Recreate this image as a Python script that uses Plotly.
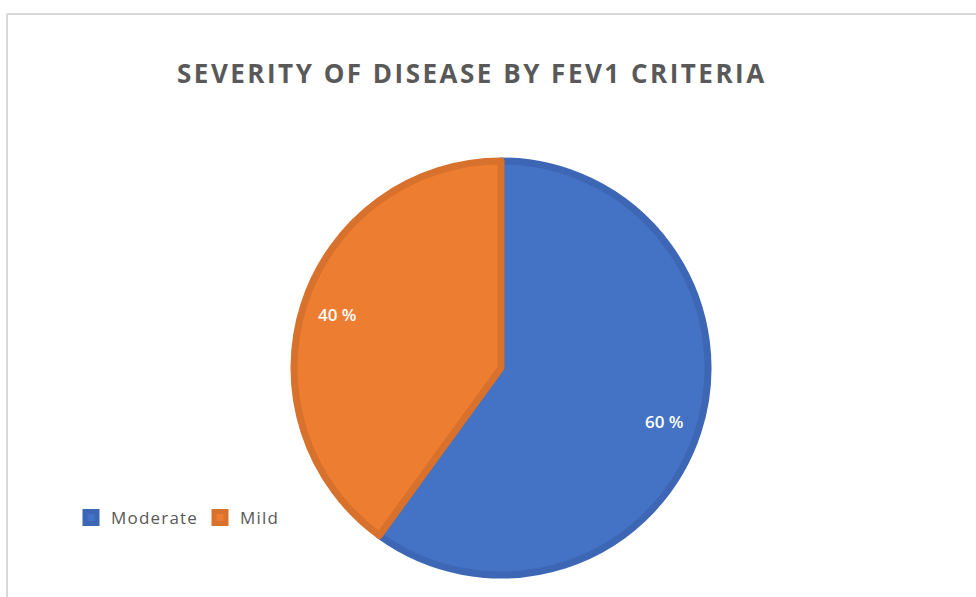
import math
import plotly.graph_objects as go

categories = ["Moderate", "Mild"]
values = [60, 40]
colors = ["#4472C4", "#ED7D31"]
border_colors = ["#3D67B5", "#D8712B"]
title_text = "SEVERITY OF DISEASE BY FEV1 CRITERIA"

W, H = 976, 597
cx, cy, R = 501, 368, 210

fig = go.Figure()
fig.add_trace(go.Pie(
    labels=[f'<span style="letter-spacing:1.2px">{c}</span>' for c in categories],
    values=values,
    sort=False,
    direction="clockwise",
    rotation=0,
    marker=dict(colors=colors, line=dict(color=border_colors, width=7)),
    textinfo="none",
    hoverinfo="label+percent",
    domain=dict(x=[(cx - R + 3) / W, (cx + R - 3) / W],
                y=[(H - cy - R + 3) / H, (H - cy + R - 3) / H]),
    showlegend=True,
))

# percentage labels placed along the slice mid-angles
total = sum(values)
start = 90.0
annotations = []
for v in values:
    frac = v / total
    mid = start - frac * 360 / 2
    start -= frac * 360
    rr = 0.82 * R
    x = cx + rr * math.cos(math.radians(mid))
    y = cy - rr * math.sin(math.radians(mid))
    annotations.append(dict(
        x=x / W, y=1 - y / H, xref="paper", yref="paper",
        text=f"{round(frac * 100)} %", showarrow=False,
        font=dict(family="Open Sans", size=17, color="white", weight=600),
        xanchor="center", yanchor="middle",
    ))

annotations.append(dict(
    x=472 / W, y=1 - 73 / H, xref="paper", yref="paper",
    text=f'<span style="letter-spacing:2.5px">{title_text}</span>', showarrow=False,
    font=dict(family="Open Sans", size=26, color="#595959", weight=700),
    xanchor="center", yanchor="middle",
))

fig.update_layout(
    width=W, height=H,
    margin=dict(l=0, r=0, t=0, b=0),
    paper_bgcolor="white",
    plot_bgcolor="white",
    annotations=annotations,
    legend=dict(
        orientation="h",
        x=71 / W, y=1 - 518 / H, xanchor="left", yanchor="middle",
        font=dict(family="Open Sans", size=17, color="#595959"),
        entrywidth=84, entrywidthmode="pixels",
        bgcolor="rgba(0,0,0,0)",
    ),
    shapes=[
        dict(type="line", xref="paper", yref="paper",
             x0=7 / W, x1=1, y0=1 - 14 / H, y1=1 - 14 / H,
             line=dict(color="#D9D9D9", width=2)),
        dict(type="line", xref="paper", yref="paper",
             x0=7 / W, x1=7 / W, y0=0, y1=1 - 14 / H,
             line=dict(color="#D9D9D9", width=2)),
    ],
)

fig.write_html("out.html")
